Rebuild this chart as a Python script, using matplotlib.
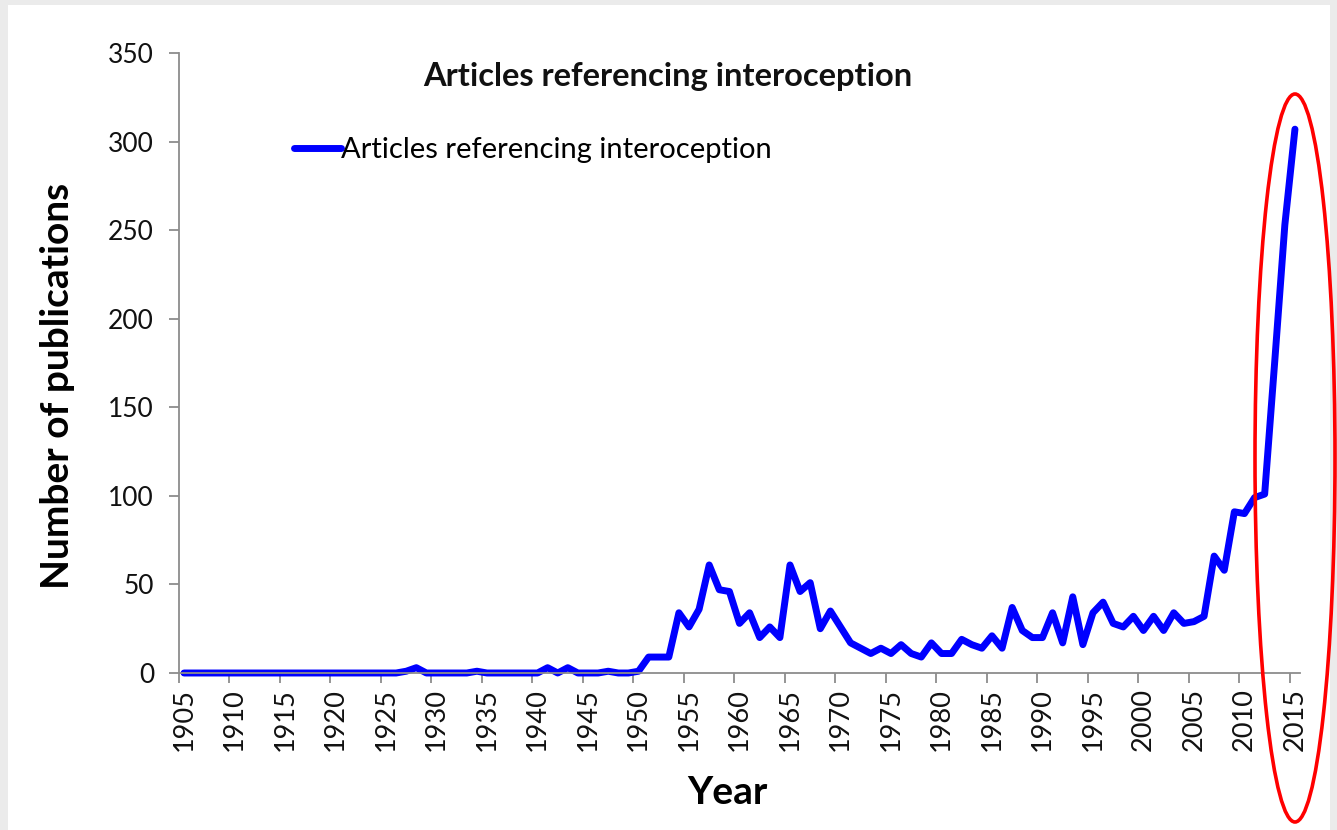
import matplotlib
matplotlib.use('Agg')

import matplotlib.pyplot as plt
from matplotlib.patches import Ellipse, Rectangle

years = list(range(1905, 2016))

# publications per year
counts_1905_1949 = [
    0, 0, 0, 0, 0, 0, 0, 0, 0, 0,   # 1905-1914
    0, 0, 0, 0, 0, 0, 0, 0, 0, 0,   # 1915-1924
    0, 0, 1, 3, 0, 0, 0, 0, 0, 1,   # 1925-1934
    0, 0, 0, 0, 0, 0, 3, 0, 3, 0,   # 1935-1944
    0, 0, 1, 0, 0,                  # 1945-1949
]
counts_1950_2015 = [
    1, 9, 9, 9, 34, 26, 36, 61, 47, 46,        # 1950-1959
    28, 34, 20, 26, 20, 61, 46, 51, 25, 35,    # 1960-1969
    26, 17, 14, 11, 14, 11, 16, 11, 9, 17,     # 1970-1979
    11, 11, 19, 16, 14, 21, 14, 37, 24, 20,    # 1980-1989
    20, 34, 17, 43, 16, 34, 40, 28, 26, 32,    # 1990-1999
    24, 32, 24, 34, 28, 29, 32, 66, 58, 91,    # 2000-2009
    90, 99, 101, 176, 253, 307,                # 2010-2015
]
counts = counts_1905_1949 + counts_1950_2015

y_ticks = [0, 50, 100, 150, 200, 250, 300, 350]
x_labels = list(range(1905, 2016, 5))

title = 'Articles referencing interoception'
series_name = 'Articles referencing interoception'

plt.rcParams['font.family'] = ['Lato', 'DejaVu Sans']

fig = plt.figure(figsize=(13.37, 8.3), dpi=100, facecolor='#ebebeb')
# white slide area
fig.add_artist(Rectangle((8 / 1337, 0), 1322 / 1337, 1 - 5 / 830,
                         transform=fig.transFigure, facecolor='white',
                         edgecolor='none', zorder=0))

ax = fig.add_axes([179 / 1337, 1 - 673 / 830, 1121 / 1337, 620 / 830])
ax.set_facecolor('none')

ax.plot(years, counts, color='#0000ff', linewidth=5.0,
        solid_joinstyle='round', solid_capstyle='round',
        label=series_name, clip_on=False)

ax.set_xlim(1904.5, 2015.5)
ax.set_ylim(0, 350)

ax.set_yticks(y_ticks)
ax.set_xticks(x_labels)
ax.set_xticklabels([str(v) for v in x_labels], rotation=90)
ax.set_xticks([v - 0.5 for v in x_labels], minor=True)

ax.tick_params(axis='y', direction='out', length=7, width=1.3,
               color='#8c8c8c', labelsize=19, pad=11, labelcolor='#111111')
ax.tick_params(axis='x', which='major', length=0, labelsize=19.5,
               pad=11, labelcolor='#111111')
ax.tick_params(axis='x', which='minor', direction='out', length=7,
               width=1.3, color='#8c8c8c')

for side in ['top', 'right']:
    ax.spines[side].set_visible(False)
for side in ['left', 'bottom']:
    ax.spines[side].set_color('#8c8c8c')
    ax.spines[side].set_linewidth(1.3)

ax.set_xlabel('Year', fontsize=28, fontweight='bold')
ax.xaxis.set_label_coords(0.489, -0.164)
ax.set_ylabel('Number of publications', fontsize=28, fontweight='bold')
ax.yaxis.set_label_coords(-0.093, 0.463)

ax.text(0.436, 0.962, title, transform=ax.transAxes, ha='center',
        va='center', fontsize=23.5, fontweight='bold', color='#111111')

ax.legend(loc='center left', bbox_to_anchor=(0.103, 0.8435), frameon=False,
          fontsize=21, handlelength=1.6, handletextpad=0.0,
          borderpad=0, borderaxespad=0)

# red highlight round the last years
fig.add_artist(Ellipse((1295 / 1337, 1 - 458 / 830), 80 / 1337, 728 / 830,
                       transform=fig.transFigure, fill=False,
                       edgecolor='#ff0000', linewidth=2.6, zorder=5))

plt.savefig('out.png', dpi=100, facecolor=fig.get_facecolor())
plt.close(fig)
